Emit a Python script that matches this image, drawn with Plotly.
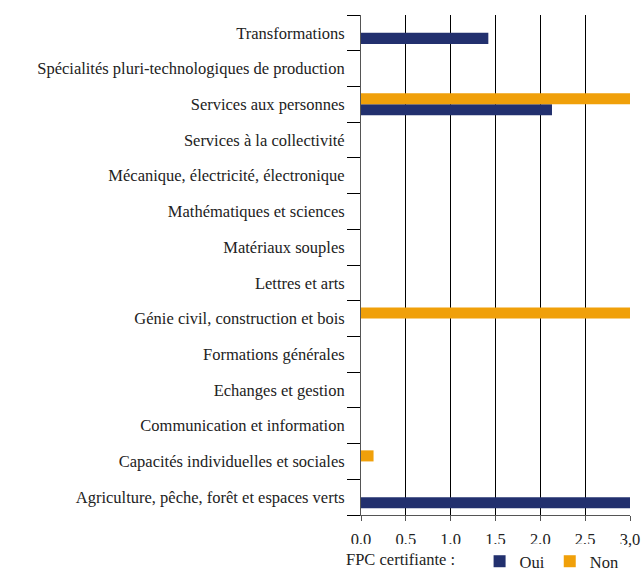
import plotly.graph_objects as go

categories = [
    "Agriculture, pêche, forêt et espaces verts",
    "Capacités individuelles et sociales",
    "Communication et information",
    "Echanges et gestion",
    "Formations générales",
    "Génie civil, construction et bois",
    "Lettres et arts",
    "Matériaux souples",
    "Mathématiques et sciences",
    "Mécanique, électricité, électronique",
    "Services à la collectivité",
    "Services aux personnes",
    "Spécialités pluri-technologiques de production",
    "Transformations",
]
oui_values = [3.0, None, None, None, None, None, None, None, None, None, None, 2.13, None, 1.42]
non_values = [None, 0.14, None, None, None, 3.0, None, None, None, None, None, 3.0, None, None]
x_ticks = [0, 0.5, 1.0, 1.5, 2.0, 2.5, 3.0]

FONT = "Liberation Serif, Times New Roman, serif"
FS = 16.5

fig = go.Figure()
fig.add_trace(go.Bar(y=categories, x=oui_values, orientation="h", name="Oui",
                     marker=dict(color="#22306e", line=dict(width=0))))
fig.add_trace(go.Bar(y=categories, x=non_values, orientation="h", name="Non",
                     marker=dict(color="#f0a00a", line=dict(width=0))))

fig.update_layout(
    width=643, height=579,
    margin=dict(l=361, r=13, t=15, b=64),
    paper_bgcolor="white", plot_bgcolor="white",
    font=dict(family=FONT, size=FS, color="#222"),
    barmode="group", bargap=0.38, bargroupgap=0,
    separators=", ",
    showlegend=True,
    legend=dict(orientation="h", xref="container", yref="container",
                x=0.535, xanchor="left", y=0.0, yanchor="bottom",
                title=dict(text="FPC certifiante :    ", font=dict(size=FS, family=FONT)),
                font=dict(size=FS, family=FONT), traceorder="normal",
                itemwidth=30),
    xaxis=dict(range=[0, 3.0], tickvals=x_ticks, tickformat=".1f", automargin=False,
               showgrid=True, gridcolor="black", gridwidth=1,
               zeroline=False, showline=True, linecolor="#555", linewidth=1,
               ticks="outside", ticklen=5, tickcolor="#555", mirror=False,
               ticklabelstandoff=4,
               tickfont=dict(family=FONT, size=FS)),
    yaxis=dict(categoryorder="array", categoryarray=categories, automargin=False,
               showgrid=False, showline=True, linecolor="#555", linewidth=1,
               ticks="outside", tickson="boundaries", ticklen=13, tickwidth=1,
               tickcolor="black", ticklabelstandoff=12,
               tickfont=dict(family=FONT, size=FS)),
)

fig.write_html("out.html", config={"displayModeBar": False},
               post_script="document.body.style.margin='0';")
